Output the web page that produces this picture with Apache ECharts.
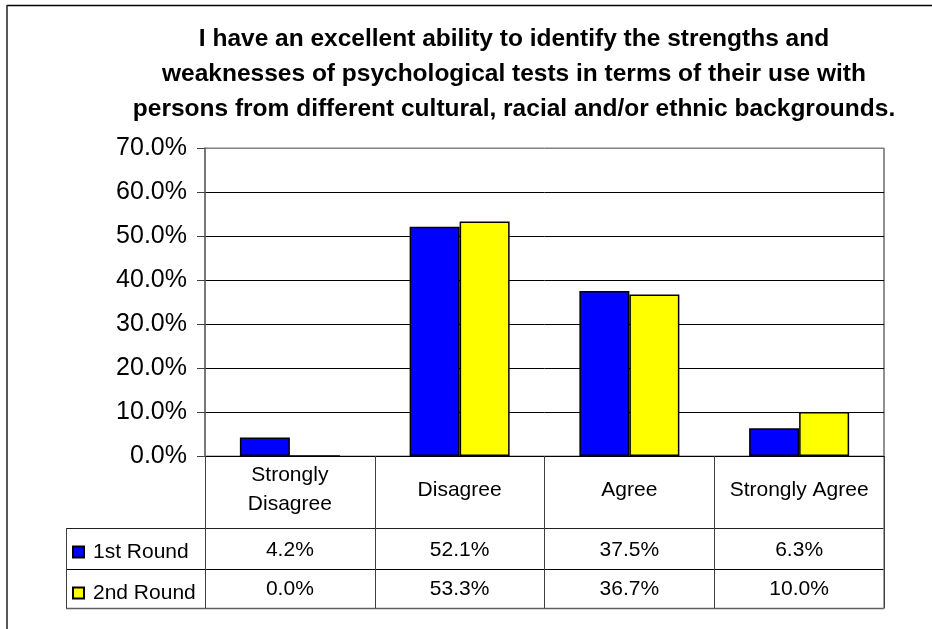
<!DOCTYPE html>
<html>
<head>
<meta charset="utf-8">
<script src="https://cdn.jsdelivr.net/npm/echarts@6/dist/echarts.min.js"></script>
<style>
html,body{margin:0;padding:0;background:#fff;}
#chart{width:932px;height:629px;}
</style>
</head>
<body>
<div id="chart"></div>
<script>
var titleText = 'I have an excellent ability to identify the strengths and\nweaknesses of psychological tests in terms of their use with\npersons from different cultural, racial and/or ethnic backgrounds.';
var categories = ['Strongly\nDisagree', 'Disagree', 'Agree', 'Strongly Agree'];
var seriesNames = ['1st Round', '2nd Round'];
var round1 = [4.2, 52.1, 37.5, 6.3];
var round2 = [0.0, 53.3, 36.7, 10.0];
var yMin = 0, yMax = 70, yStep = 10;

var FONT = '"Liberation Sans", Arial, sans-serif';
var chart = echarts.init(document.getElementById('chart'));

var gL = 205, gR = 884, gT = 148, gB = 456;
var row1 = 528, row2 = 569, tBot = 608, tLeft = 66;

function fmtPct(v){ return Number(v).toFixed(1) + '%'; }

chart.setOption({
  animation: false,
  backgroundColor: '#fff',
  title: {
    text: titleText,
    left: 509,
    top: 17,
    textAlign: 'center',
    textStyle: { fontFamily: FONT, fontWeight: 'bold', fontSize: 24.5, lineHeight: 35, color: '#000' }
  },
  legend: {
    orient: 'vertical',
    left: 72,
    top: 540,
    padding: 0,
    itemWidth: 11,
    itemHeight: 11,
    itemGap: 17,
    icon: 'rect',
    data: seriesNames,
    textStyle: { fontFamily: FONT, fontSize: 21, lineHeight: 24, color: '#000', padding: [0, 0, 0, 4] }
  },
  grid: {
    left: gL, right: 932 - gR, top: gT, bottom: 629 - gB,
    show: true, borderColor: '#808080', borderWidth: 1, backgroundColor: 'transparent'
  },
  xAxis: [
    {
      type: 'category', data: categories, position: 'bottom',
      axisLine: { show: true, lineStyle: { color: '#000', width: 1 } },
      axisTick: { show: true, length: tBot - gB, lineStyle: { color: '#404040', width: 1 } },
      axisLabel: { margin: 34, verticalAlign: 'middle', fontFamily: FONT, fontSize: 21, lineHeight: 29, color: '#000', interval: 0 }
    },
    {
      type: 'category', data: categories, position: 'bottom', gridIndex: 0,
      axisLine: { show: false }, axisTick: { show: false },
      axisLabel: { margin: 94, verticalAlign: 'middle', fontFamily: FONT, fontSize: 21, color: '#000', interval: 0,
        formatter: function(v, i){ return fmtPct(round1[i]); } }
    },
    {
      type: 'category', data: categories, position: 'bottom', gridIndex: 0,
      axisLine: { show: false }, axisTick: { show: false },
      axisLabel: { margin: 133, verticalAlign: 'middle', fontFamily: FONT, fontSize: 21, color: '#000', interval: 0,
        formatter: function(v, i){ return fmtPct(round2[i]); } }
    }
  ],
  yAxis: {
    type: 'value', min: yMin, max: yMax, interval: yStep,
    axisLine: { show: true, lineStyle: { color: '#606060', width: 1.5 } },
    axisTick: { show: true, length: 8, lineStyle: { color: '#404040' } },
    axisLabel: { margin: 18, fontFamily: FONT, fontSize: 25, color: '#000', formatter: fmtPct },
    splitLine: { show: true, lineStyle: { color: ['#000','#000','#000','#000','#000','#000','#000','#808080'], width: 1 } }
  },
  series: [
    { name: seriesNames[0], type: 'bar', data: round1, barWidth: 50, barGap: '0%',
      itemStyle: { color: '#0000FF', borderColor: '#000', borderWidth: 1.5 } },
    { name: seriesNames[1], type: 'bar', data: round2, barWidth: 50, barGap: '0%',
      itemStyle: { color: '#FFFF00', borderColor: '#000', borderWidth: 1.5 } }
  ],
  graphic: [
    { type: 'line', silent: true, shape: { x1: 7, y1: 5.5, x2: 932, y2: 5.5 }, style: { stroke: '#000', lineWidth: 1.5 } },
    { type: 'line', silent: true, shape: { x1: 7, y1: 5, x2: 7, y2: 629 }, style: { stroke: '#202020', lineWidth: 1.5 } },
    { type: 'line', silent: true, shape: { x1: tLeft, y1: row1 + 0.5, x2: gR, y2: row1 + 0.5 }, style: { stroke: '#202020', lineWidth: 1 } },
    { type: 'line', silent: true, shape: { x1: tLeft, y1: row2 + 0.5, x2: gR, y2: row2 + 0.5 }, style: { stroke: '#000', lineWidth: 1 } },
    { type: 'line', silent: true, shape: { x1: tLeft, y1: tBot + 0.5, x2: gR, y2: tBot + 0.5 }, style: { stroke: '#606060', lineWidth: 1.5 } },
    { type: 'line', silent: true, shape: { x1: tLeft + 0.5, y1: row1, x2: tLeft + 0.5, y2: tBot }, style: { stroke: '#404040', lineWidth: 1 } },
    { type: 'line', silent: true, shape: { x1: gR, y1: gT, x2: gR, y2: tBot + 1 }, style: { stroke: '#808080', lineWidth: 1.5 } }
  ]
});
</script>
</body>
</html>
